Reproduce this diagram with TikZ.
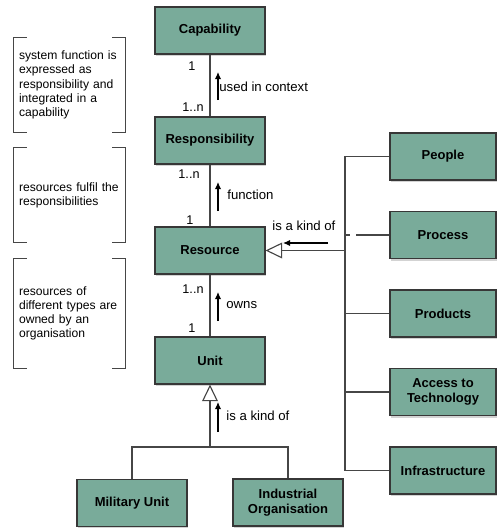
\documentclass[tikz,border=0pt]{standalone}
\usepackage{fontspec}
\setmainfont{Liberation Sans}
\usetikzlibrary{positioning,arrows.meta,shadows}

\definecolor{boxfill}{RGB}{121,171,154}
\definecolor{boxedge}{RGB}{55,55,55}
\definecolor{linegray}{RGB}{70,70,70}

\begin{document}
\begin{tikzpicture}[
        x=0.02cm, y=-0.02cm,
        box/.style={
            rectangle,
            draw=boxedge,
            fill=boxfill,
            line width=0.6pt,
            minimum width=2.2cm,
            minimum height=0.94cm,
            align=center,
            inner sep=1pt,
            font=\fontsize{7.4}{8.6}\selectfont\bfseries,
            drop shadow={shadow xshift=0.8pt, shadow yshift=-1.2pt, opacity=0.35}
        },
        sidebox/.style={box, minimum width=2.12cm},
        link/.style={draw=linegray, line width=0.65pt},
        gen/.style={link, -{Triangle[open, fill=white, length=9.5pt, width=9pt]}},
        flow/.style={-{Latex[length=4pt, width=3.6pt]}, line width=0.65pt},
        mult/.style={font=\fontsize{7.2}{8}\selectfont, inner sep=0pt},
        lbl/.style={font=\fontsize{7.5}{9}\selectfont, inner sep=0pt, anchor=west},
        note/.style={
            minimum width=2.22cm,
            text width=2.02cm,
            inner xsep=0.1cm,
            inner ysep=0pt,
            align=left,
            font=\fontsize{6.9}{8.1}\selectfont
        },
        bracket/.style={draw=linegray, line width=0.6pt}
    ]

    \useasboundingbox (0,0) rectangle (497,528);

    % Main column
    \node[box] (cap) at (210,30.5) {Capability};
    \node[box] (resp) at (210,140.5) {Responsibility};
    \node[box] (res) at (210,250.5) {Resource};
    \node[box] (unit) at (210,360.5) {Unit};

    % Kinds of unit
    \node[box] (mil) at (132,503) {Military Unit};
    \node[box] (ind) at (288,502.5) {Industrial\\Organisation};

    % Kinds of resource
    \node[sidebox] (people) at (443,156.5) {People};
    \node[sidebox] (process) at (443,235) {Process};
    \node[sidebox] (products) at (443,313.5) {Products};
    \node[sidebox] (access) at (443,392) {Access to\\Technology};
    \node[sidebox] (infra) at (443,470.5) {Infrastructure};

    % Notes on the left
    \node[note, minimum height=1.88cm] (n1) at (69.5,85) {system function is\\expressed as\\responsibility and\\integrated in a\\capability};
    \node[note, minimum height=1.88cm] (n2) at (69.5,195) {resources fulfil the\\responsibilities};
    \node[note, minimum height=2.18cm] (n3) at (69.5,313.5) {resources of\\different types are\\owned by an\\organisation};

    \foreach \n in {n1,n2,n3} {
        \draw[bracket] ([xshift=0.26cm]\n.north west) -- (\n.north west) -- (\n.south west) -- ++(13,0);
        \draw[bracket] ([xshift=-0.26cm]\n.north east) -- (\n.north east) -- (\n.south east) -- ++(-13,0);
    }

    % Associations
    \draw[link] (cap) -- (resp);
    \draw[link] (resp) -- (res);
    \draw[link] (res) -- (unit);

    \node[mult] at (192,66) {1};
    \node[mult] at (193,107) {1..n};
    \node[mult] at (189,174) {1..n};
    \node[mult] at (190,220) {1};
    \node[mult] at (193,289) {1..n};
    \node[mult] at (192,328) {1};

    \coordinate (a1) at (218,100);
    \coordinate (a2) at (218,211);
    \coordinate (a3) at (218,321);
    \coordinate (a4) at (218,432);
    \coordinate (a5) at (328,243);
    \draw[flow] (a1) -- ++(0,-28);
    \draw[flow] (a2) -- ++(0,-29);
    \draw[flow] (a3) -- ++(0,-29);
    \draw[flow] (a4) -- ++(0,-30);
    \draw[flow] (a5) -- ++(-45,0);

    \node[lbl] (l1) at (219,87) {used in context};
    \node[lbl] (l2) at (227,195) {function};
    \node[lbl] (l3) at (226,305) {owns};
    \node[lbl] (l4) at (226,416) {is a kind of};
    \node[lbl] (l5) at (272,226) {is a kind of};

    % Resource generalisation
    \coordinate (bus) at (345,250.5);
    \draw[link] (people.west) -- (people.west -| bus) -- (infra.west -| bus) -- (infra.west);
    \foreach \n in {products,access}
        \draw[link] (\n.west) -- (\n.west -| bus);
    \draw[link, dash pattern=on 19.3pt off 3.4pt on 2.8pt off 10pt] (process.west) -- (process.west -| bus);
    \draw[gen] (bus) -- (res.east);

    % Unit generalisation
    \coordinate (join) at (210,447);
    \draw[link] (mil.north) |- (join) -| (ind.north);
    \draw[gen] (join) -- (unit.south);

\end{tikzpicture}
\end{document}
